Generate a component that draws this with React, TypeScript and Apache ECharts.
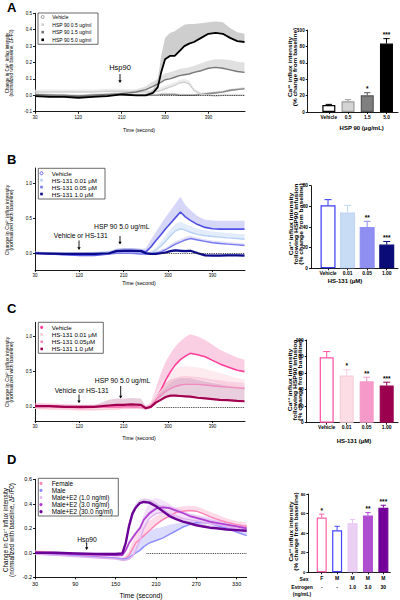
import React, { useEffect, useRef } from 'react';
import * as echarts from 'echarts';

const FONT = '"Liberation Sans", Arial, Helvetica, sans-serif';

// ---------------- Panel A: time course ----------------
const timeA = [30, 60, 90, 120, 150, 180, 210, 240, 260, 275, 285, 292, 300, 310, 320, 330, 340, 350, 360, 375, 390, 405, 420, 435, 450, 465];
const aVehicle = [0, 0, -0.005, -0.005, 0, 0, 0.005, 0, 0, 0, 0, 0.005, 0.005, 0.005, 0.005, 0, 0, 0, 0, 0.005, 0.01, 0.015, 0.02, 0.03, 0.035, 0.04];
const aVehicleErr = [0.01, 0.01, 0.01, 0.01, 0.01, 0.01, 0.01, 0.01, 0.01, 0.01, 0.01, 0.01, 0.01, 0.01, 0.01, 0.01, 0.01, 0.01, 0.01, 0.01, 0.01, 0.01, 0.01, 0.01, 0.01, 0.01];
const aHsp05 = [0.02, 0.02, 0.02, 0.02, 0.02, 0.025, 0.025, 0.02, 0.02, 0.02, 0.025, 0.03, 0.04, 0.05, 0.06, 0.075, 0.08, 0.07, 0.03, 0.005, 0, -0.005, 0, 0, 0, 0];
const aHsp05Err = [0.015, 0.015, 0.015, 0.015, 0.015, 0.015, 0.015, 0.015, 0.015, 0.015, 0.015, 0.02, 0.02, 0.02, 0.02, 0.02, 0.02, 0.02, 0.015, 0.01, 0.01, 0.01, 0.01, 0.01, 0.01, 0.01];
const aHsp15 = [0.005, 0, 0, -0.005, 0, 0.005, 0.01, 0.02, 0.035, 0.055, 0.07, 0.08, 0.095, 0.1, 0.11, 0.12, 0.125, 0.13, 0.14, 0.15, 0.165, 0.17, 0.165, 0.155, 0.145, 0.14];
const aHsp15Err = [0.01, 0.01, 0.01, 0.01, 0.01, 0.01, 0.01, 0.015, 0.02, 0.03, 0.03, 0.035, 0.04, 0.04, 0.04, 0.04, 0.04, 0.04, 0.04, 0.045, 0.045, 0.05, 0.055, 0.06, 0.06, 0.06];
const aHsp50 = [-0.005, -0.01, -0.01, -0.015, -0.01, -0.005, 0.005, 0, 0, 0.015, 0.05, 0.14, 0.22, 0.24, 0.24, 0.27, 0.3, 0.315, 0.325, 0.35, 0.375, 0.38, 0.375, 0.35, 0.33, 0.325];
const aHsp50Err = [0.01, 0.01, 0.01, 0.01, 0.01, 0.01, 0.01, 0.01, 0.01, 0.02, 0.05, 0.1, 0.13, 0.14, 0.15, 0.14, 0.13, 0.12, 0.11, 0.09, 0.07, 0.07, 0.07, 0.06, 0.055, 0.05];

// ---------------- Panel B: time course ----------------
const timeBC = [30, 60, 90, 120, 150, 180, 195, 210, 225, 245, 255, 265, 275, 285, 295, 305, 315, 325, 335, 345, 360, 375, 390, 405, 420, 440, 455];
const bVehicle = [0, -0.01, -0.02, -0.03, -0.03, -0.01, 0.03, 0.04, 0.04, 0.03, 0.02, 0.09, 0.18, 0.26, 0.35, 0.43, 0.51, 0.59, 0.52, 0.47, 0.41, 0.37, 0.35, 0.345, 0.345, 0.345, 0.345];
const bVehicleErr = [0.02, 0.02, 0.02, 0.02, 0.02, 0.02, 0.03, 0.03, 0.03, 0.03, 0.05, 0.1, 0.12, 0.15, 0.17, 0.18, 0.2, 0.22, 0.17, 0.15, 0.12, 0.11, 0.12, 0.12, 0.12, 0.12, 0.12];
const bHs001 = [0, 0, -0.01, -0.01, 0, 0.02, 0.03, 0.035, 0.03, 0, -0.01, 0, 0.04, 0.1, 0.17, 0.25, 0.32, 0.35, 0.33, 0.3, 0.27, 0.25, 0.24, 0.23, 0.22, 0.21, 0.2];
const bHs001Err = [0.02, 0.02, 0.02, 0.02, 0.02, 0.02, 0.02, 0.02, 0.02, 0.02, 0.02, 0.03, 0.04, 0.06, 0.08, 0.1, 0.1, 0.1, 0.09, 0.09, 0.08, 0.08, 0.07, 0.07, 0.07, 0.07, 0.07];
const bHs005 = [0, -0.01, -0.02, -0.02, -0.02, -0.01, 0, 0, 0, -0.01, -0.01, -0.01, 0, 0.02, 0.05, 0.09, 0.13, 0.16, 0.19, 0.21, 0.19, 0.17, 0.15, 0.14, 0.13, 0.12, 0.11];
const bHs005Err = [0.02, 0.02, 0.02, 0.02, 0.02, 0.02, 0.02, 0.02, 0.02, 0.02, 0.02, 0.02, 0.03, 0.03, 0.03, 0.04, 0.04, 0.04, 0.04, 0.04, 0.03, 0.03, 0.03, 0.03, 0.03, 0.03, 0.03];
const bHs10 = [0, -0.005, -0.01, -0.01, -0.01, 0, 0.03, 0.035, 0.035, 0.03, 0, -0.01, -0.01, 0, 0.01, 0.03, 0.04, 0.035, 0.03, 0.035, 0, -0.03, -0.035, -0.035, -0.03, -0.03, -0.035];
const bHs10Err = [0.02, 0.02, 0.02, 0.02, 0.02, 0.02, 0.035, 0.035, 0.035, 0.035, 0.02, 0.02, 0.02, 0.02, 0.02, 0.02, 0.02, 0.02, 0.02, 0.02, 0.02, 0.02, 0.02, 0.02, 0.02, 0.02, 0.02];

// ---------------- Panel C: time course ----------------
const cVehicle = [0.02, 0.01, 0, -0.01, -0.005, 0, 0, 0, 0, -0.01, -0.02, 0, 0.1, 0.23, 0.38, 0.5, 0.6, 0.67, 0.72, 0.76, 0.74, 0.71, 0.66, 0.61, 0.57, 0.52, 0.5];
const cVehicleErr = [0.04, 0.04, 0.04, 0.04, 0.04, 0.04, 0.04, 0.04, 0.04, 0.04, 0.04, 0.06, 0.16, 0.24, 0.26, 0.26, 0.26, 0.26, 0.27, 0.27, 0.26, 0.24, 0.22, 0.2, 0.19, 0.18, 0.17];
const cHs001 = [-0.02, -0.03, -0.03, -0.04, -0.04, -0.03, -0.03, -0.02, -0.02, -0.02, -0.03, 0.02, 0.12, 0.22, 0.3, 0.36, 0.4, 0.42, 0.43, 0.42, 0.41, 0.39, 0.37, 0.34, 0.32, 0.29, 0.27];
const cHs001Err = [0.03, 0.03, 0.03, 0.03, 0.03, 0.03, 0.03, 0.03, 0.03, 0.03, 0.03, 0.05, 0.1, 0.12, 0.13, 0.14, 0.15, 0.15, 0.15, 0.15, 0.15, 0.15, 0.14, 0.14, 0.13, 0.12, 0.12];
const cHs005 = [0, 0, -0.01, -0.01, -0.01, 0, 0, 0, 0, -0.01, -0.02, 0.02, 0.1, 0.16, 0.22, 0.26, 0.29, 0.31, 0.32, 0.32, 0.32, 0.31, 0.3, 0.29, 0.28, 0.27, 0.26];
const cHs005Err = [0.02, 0.02, 0.02, 0.02, 0.02, 0.02, 0.02, 0.02, 0.02, 0.02, 0.02, 0.03, 0.06, 0.08, 0.09, 0.1, 0.1, 0.1, 0.1, 0.1, 0.1, 0.1, 0.09, 0.09, 0.08, 0.08, 0.08];
const cHs10 = [0.01, 0.01, 0, 0, 0, 0.02, 0.03, 0.03, 0.035, 0.03, -0.02, 0, 0.06, 0.1, 0.14, 0.16, 0.16, 0.155, 0.15, 0.145, 0.13, 0.12, 0.11, 0.1, 0.095, 0.085, 0.08];
const cHs10Err = [0.02, 0.02, 0.02, 0.02, 0.02, 0.08, 0.09, 0.09, 0.09, 0.09, 0.03, 0.03, 0.08, 0.14, 0.2, 0.23, 0.25, 0.26, 0.26, 0.26, 0.25, 0.24, 0.23, 0.22, 0.21, 0.2, 0.2];

// ---------------- Panel D: time course ----------------
const timeD = [30, 60, 90, 120, 150, 160, 165, 170, 175, 180, 186, 192, 200, 210, 220, 230, 240, 250, 260, 270, 280, 290, 300, 315, 330, 345];
const dFemale = [0.01, 0, -0.015, -0.03, -0.045, -0.05, -0.045, -0.02, 0.03, 0.08, 0.11, 0.14, 0.18, 0.23, 0.27, 0.3, 0.33, 0.34, 0.345, 0.34, 0.32, 0.295, 0.275, 0.25, 0.23, 0.215];
const dFemaleErr = [0.01, 0.01, 0.01, 0.01, 0.01, 0.01, 0.02, 0.04, 0.06, 0.08, 0.09, 0.09, 0.08, 0.07, 0.06, 0.05, 0.04, 0.04, 0.04, 0.04, 0.04, 0.04, 0.04, 0.03, 0.03, 0.03];
const dMale = [-0.01, -0.015, -0.025, -0.035, -0.045, -0.05, -0.05, -0.04, -0.02, 0, 0.02, 0.05, 0.08, 0.1, 0.12, 0.15, 0.18, 0.21, 0.23, 0.245, 0.245, 0.24, 0.225, 0.2, 0.17, 0.14];
const dMaleErr = [0.01, 0.01, 0.01, 0.01, 0.01, 0.01, 0.01, 0.02, 0.04, 0.06, 0.08, 0.09, 0.1, 0.1, 0.09, 0.08, 0.06, 0.04, 0.03, 0.03, 0.03, 0.03, 0.03, 0.03, 0.03, 0.03];
const dE2Low = [-0.01, -0.02, -0.03, -0.04, -0.05, -0.06, -0.06, -0.05, -0.03, 0.02, 0.1, 0.2, 0.28, 0.32, 0.33, 0.32, 0.3, 0.28, 0.27, 0.26, 0.25, 0.24, 0.23, 0.215, 0.2, 0.19];
const dE2LowErr = [0.01, 0.01, 0.01, 0.01, 0.01, 0.01, 0.01, 0.02, 0.03, 0.05, 0.08, 0.12, 0.14, 0.13, 0.1, 0.08, 0.06, 0.05, 0.05, 0.05, 0.05, 0.05, 0.05, 0.04, 0.04, 0.04];
const dE2Mid = [0, -0.005, -0.01, -0.015, -0.02, -0.02, 0.02, 0.08, 0.12, 0.16, 0.2, 0.27, 0.32, 0.36, 0.37, 0.365, 0.345, 0.325, 0.3, 0.285, 0.27, 0.255, 0.245, 0.23, 0.215, 0.2];
const dE2MidErr = [0.01, 0.01, 0.01, 0.01, 0.01, 0.01, 0.02, 0.02, 0.02, 0.02, 0.02, 0.02, 0.02, 0.02, 0.02, 0.02, 0.02, 0.02, 0.02, 0.02, 0.02, 0.02, 0.02, 0.02, 0.02, 0.02];
const dE2High = [0, 0, -0.005, -0.01, -0.01, -0.005, 0.08, 0.22, 0.32, 0.37, 0.405, 0.415, 0.41, 0.38, 0.34, 0.3, 0.275, 0.255, 0.24, 0.225, 0.215, 0.205, 0.2, 0.19, 0.185, 0.18];
const dE2HighErr = [0.01, 0.01, 0.01, 0.01, 0.01, 0.01, 0.03, 0.03, 0.03, 0.03, 0.03, 0.03, 0.03, 0.03, 0.03, 0.02, 0.02, 0.02, 0.02, 0.02, 0.02, 0.02, 0.02, 0.02, 0.02, 0.02];

// ---------------- Bar panels ----------------
const aBarCats = ['Vehicle', '0.5', '1.5', '5.0'];
const aBarMeans = [8.5, 13, 20.5, 83.5];
const aBarErrs = [0.8, 2, 3, 6];
const aBarStars = ['', '', '*', '***'];

const bBarCats = ['Vehicle', '0.01', '0.05', '1.00'];
const bBarMeans = [61, 54, 40, 23];
const bBarErrs = [5.5, 7, 5.5, 3];
const bBarStars = ['', '', '**', '***'];

const cBarCats = ['Vehicle', '0.01', '0.05', '1.00'];
const cBarMeans = [79, 57, 50, 45];
const cBarErrs = [7, 7, 5, 4];
const cBarStars = ['', '*', '**', '***'];

const dBarSex = ['F', 'M', 'M', 'M', 'M'];
const dBarEstrogen = ['-', '-', '1.0', '3.0', '30'];
const dBarMeans = [56, 43, 50, 58, 66];
const dBarErrs = [3.5, 4, 4, 3, 2.5];
const dBarStars = ['*', '', '', '**', '***'];

// ---------------- Tick labels ----------------
const timeTicksABC = [30, 120, 210, 300, 390];
const timeTicksD = [30, 90, 150, 210, 270, 330];
const yTicksA = [-0.1, 0, 0.1, 0.2, 0.3, 0.4, 0.5];
const yTicksBC = [0, 0.5, 1.0];
const yTicksD = [-0.2, 0, 0.2, 0.4, 0.6];
const barTicks100 = [0, 20, 40, 60, 80, 100];
const barTicks80 = [0, 20, 40, 60, 80];

type Curve = { name: string; mean: number[]; err: number[]; line: string; band: string; bandOpacity: number; width: number; marker: 'ring' | 'dot' | 'square' };

const curvesA: Curve[] = [
  { name: 'Vehicle', mean: aVehicle, err: aVehicleErr, line: '#8c8c8c', band: '#dcdcdc', bandOpacity: 0.7, width: 1.6, marker: 'ring' },
  { name: 'HSP 90 0.5 ug/ml', mean: aHsp05, err: aHsp05Err, line: '#cfcfcf', band: '#e6e6e6', bandOpacity: 0.7, width: 1.4, marker: 'square' },
  { name: 'HSP 90 1.5 ug/ml', mean: aHsp15, err: aHsp15Err, line: '#777777', band: '#d8d8d8', bandOpacity: 0.8, width: 1.4, marker: 'square' },
  { name: 'HSP 90 5.0 ug/ml', mean: aHsp50, err: aHsp50Err, line: '#000000', band: '#c2c2c2', bandOpacity: 0.8, width: 1.8, marker: 'square' },
];
const curvesB: Curve[] = [
  { name: 'Vehicle', mean: bVehicle, err: bVehicleErr, line: '#4f4fe6', band: '#b4b4f4', bandOpacity: 0.55, width: 1.6, marker: 'ring' },
  { name: 'HS-131 0.01 μM', mean: bHs001, err: bHs001Err, line: '#b7d0f5', band: '#d6e4fa', bandOpacity: 0.7, width: 1.4, marker: 'square' },
  { name: 'HS-131 0.05 μM', mean: bHs005, err: bHs005Err, line: '#7878ee', band: '#bdbdf6', bandOpacity: 0.5, width: 1.4, marker: 'square' },
  { name: 'HS-131 1.0 μM', mean: bHs10, err: bHs10Err, line: '#0a0a8a', band: '#7d7dd0', bandOpacity: 0.5, width: 2.2, marker: 'square' },
];
const curvesC: Curve[] = [
  { name: 'Vehicle', mean: cVehicle, err: cVehicleErr, line: '#ff3d9a', band: '#f6a8cc', bandOpacity: 0.55, width: 1.6, marker: 'dot' },
  { name: 'HS-131 0.01 μM', mean: cHs001, err: cHs001Err, line: '#fbcbd8', band: '#fde2ea', bandOpacity: 0.7, width: 1.4, marker: 'square' },
  { name: 'HS-131 0.05μM', mean: cHs005, err: cHs005Err, line: '#f08cc0', band: '#f3bcd8', bandOpacity: 0.5, width: 1.4, marker: 'square' },
  { name: 'HS-131 1.0 μM', mean: cHs10, err: cHs10Err, line: '#a3004f', band: '#cf94b4', bandOpacity: 0.45, width: 2.2, marker: 'square' },
];
const curvesD: Curve[] = [
  { name: 'Female', mean: dFemale, err: dFemaleErr, line: '#ff86b6', band: '#ffc2da', bandOpacity: 0.6, width: 1.5, marker: 'dot' },
  { name: 'Male', mean: dMale, err: dMaleErr, line: '#8f8fff', band: '#c4c4ff', bandOpacity: 0.6, width: 1.5, marker: 'dot' },
  { name: 'Male+E2 (1.0 ng/ml)', mean: dE2Low, err: dE2LowErr, line: '#e2b2f0', band: '#eed6f6', bandOpacity: 0.7, width: 1.5, marker: 'square' },
  { name: 'Male+E2 (3.0 ng/ml)', mean: dE2Mid, err: dE2MidErr, line: '#b13fd2', band: '#dcaaee', bandOpacity: 0.5, width: 1.8, marker: 'dot' },
  { name: 'Male+E2 (30.0 ng/ml)', mean: dE2High, err: dE2HighErr, line: '#6a0096', band: '#b98ad0', bandOpacity: 0.4, width: 2.4, marker: 'dot' },
];

function lineSeries(gi: number, times: number[], curves: Curve[], zeroFrom: number, zeroTo: number) {
  const out: any[] = [];
  curves.forEach((c) => {
    out.push({
      type: 'custom', xAxisIndex: gi, yAxisIndex: gi, silent: true, z: 1,
      data: times.map((t, i) => [t, c.mean[i], c.mean[i] + c.err[i]]),
      encode: { x: 0, y: [1, 2] },
      renderItem: (params: any, api: any) => {
        if (params.dataIndexInside !== 0) return null;
        const n = params.dataInsideLength;
        const up: number[][] = [];
        const lo: number[][] = [];
        for (let i = 0; i < n; i++) {
          up.push(api.coord([api.value(0, i), api.value(2, i)]));
          lo.push(api.coord([api.value(0, i), api.value(1, i)]));
        }
        return { type: 'polygon', shape: { points: up.concat(lo.reverse()) }, style: { fill: c.band, opacity: c.bandOpacity } };
      },
    });
  });
  curves.forEach((c, k) => {
    out.push({
      type: 'line', name: c.name, xAxisIndex: gi, yAxisIndex: gi, z: 3,
      data: times.map((t, i) => [t, c.mean[i]]),
      symbol: 'none', showSymbol: false,
      lineStyle: { color: c.line, width: c.width },
      itemStyle: { color: c.line },
      markLine: k === 0 ? {
        silent: true, symbol: 'none', label: { show: false },
        lineStyle: { type: 'dotted', color: '#222', width: 0.9 },
        data: [[{ coord: [zeroFrom, 0] }, { coord: [zeroTo, 0] }]],
      } : undefined,
    });
  });
  return out;
}

function barSeries(gi: number, means: number[], errs: number[], stars: string[], fills: string[], borders: string[], bw: number, cap: number) {
  return [
    {
      type: 'bar', xAxisIndex: gi, yAxisIndex: gi, barWidth: bw, z: 2,
      data: means.map((m, i) => ({ value: [i + 1, m], itemStyle: { color: fills[i], borderColor: borders[i], borderWidth: 1.2 } })),
    },
    {
      type: 'custom', xAxisIndex: gi, yAxisIndex: gi, silent: true, z: 4,
      data: means.map((m, i) => [i + 1, m, errs[i]]),
      encode: { x: 0, y: 1 },
      renderItem: (params: any, api: any) => {
        const i = params.dataIndex;
        const x = api.value(0);
        const m = api.value(1);
        const e = api.value(2);
        const p0 = api.coord([x, m]);
        const p1 = api.coord([x, m + e]);
        const col = borders[i];
        return {
          type: 'group', children: [
            { type: 'line', shape: { x1: p0[0], y1: p0[1], x2: p1[0], y2: p1[1] }, style: { stroke: col, lineWidth: 1 } },
            { type: 'line', shape: { x1: p1[0] - cap, y1: p1[1], x2: p1[0] + cap, y2: p1[1] }, style: { stroke: col, lineWidth: 1 } },
            { type: 'text', x: p1[0], y: p1[1] - 0.5, style: { text: stars[i], align: 'center', verticalAlign: 'bottom', textAlign: 'center', textVerticalAlign: 'bottom', fontSize: 6.5, fontWeight: 'bold', fontFamily: FONT, fill: '#000' } },
          ],
        };
      },
    },
  ];
}

const axisLineStyle = { color: '#000', width: 0.9 };

function valueXAxis(gi: number, min: number, max: number, ticks: number[], fs: number, formatter: any, bold = false, margin = 3, lineHeight?: number) {
  return {
    gridIndex: gi, type: 'value', min, max,
    axisLine: { show: true, onZero: false, lineStyle: axisLineStyle },
    axisTick: { show: true, customValues: ticks, length: 2, lineStyle: axisLineStyle },
    axisLabel: { show: true, customValues: ticks, fontSize: fs, color: '#000', margin, fontFamily: FONT, fontWeight: bold ? 'bold' : 'normal', formatter, lineHeight },
    splitLine: { show: false },
  };
}
function valueYAxis(gi: number, min: number, max: number, ticks: number[], fs: number, formatter: any, bold = false) {
  return {
    gridIndex: gi, type: 'value', min, max,
    axisLine: { show: true, onZero: false, lineStyle: axisLineStyle },
    axisTick: { show: true, customValues: ticks, length: 2, lineStyle: axisLineStyle },
    axisLabel: { show: true, customValues: ticks, fontSize: fs, color: '#000', margin: 3, fontFamily: FONT, fontWeight: bold ? 'bold' : 'normal', formatter },
    splitLine: { show: false },
  };
}

const fmt1 = (v: number) => v.toFixed(1);
const fmt0 = (v: number) => String(Math.round(v));
const catFmt = (cats: string[]) => (v: number) => cats[Math.round(v) - 1] ?? '';

function txt(x: number, y: number, text: string, fs: number, opts: any = {}) {
  const align = opts.align || 'center';
  const valign = opts.valign || 'middle';
  return {
    type: 'text', x, y, rotation: opts.rotation || 0, scaleX: opts.scaleX || 1, scaleY: opts.scaleY || 1, silent: true,
    style: {
      text, fontSize: fs, fontFamily: FONT, fontWeight: opts.bold ? 'bold' : 'normal', fill: '#000',
      align, verticalAlign: valign, textAlign: align, textVerticalAlign: valign, lineHeight: opts.lineHeight,
    },
  };
}
function arrow(x: number, y1: number, y2: number) {
  return [
    { type: 'line', silent: true, shape: { x1: x, y1, x2: x, y2: y2 - 2 }, style: { stroke: '#000', lineWidth: 0.9 } },
    { type: 'polygon', silent: true, shape: { points: [[x - 1.7, y2 - 2.8], [x + 1.7, y2 - 2.8], [x, y2]] }, style: { fill: '#000' } },
  ];
}
function legend(curves: Curve[], bx: number, by: number, bw: number, bh: number, symX: number, textX: number, y0: number, dy: number, fs: number) {
  const els: any[] = [{ type: 'rect', silent: true, shape: { x: bx, y: by, width: bw, height: bh }, style: { fill: '#fff', stroke: '#444', lineWidth: 0.8 } }];
  curves.forEach((c, i) => {
    const y = y0 + i * dy;
    if (c.marker === 'ring') els.push({ type: 'circle', silent: true, shape: { cx: symX, cy: y, r: 1.5 }, style: { fill: '#fff', stroke: c.line, lineWidth: 0.9 } });
    else if (c.marker === 'dot') els.push({ type: 'circle', silent: true, shape: { cx: symX, cy: y, r: 1.6 }, style: { fill: c.line } });
    else els.push({ type: 'rect', silent: true, shape: { x: symX - 1.3, y: y - 1.3, width: 2.6, height: 2.6 }, style: { fill: c.line } });
    els.push(txt(textX, y, c.name, fs, { align: 'left' }));
  });
  return els;
}

const App: React.FC = () => {
  const ref = useRef<HTMLDivElement>(null);
  useEffect(() => {
    if (!ref.current) return;
    const chart = echarts.init(ref.current, undefined, { renderer: 'svg' });

    const grids = [
      { left: 35, top: 13.3, width: 210, height: 98.4 },
      { left: 307.7, top: 30, width: 90.3, height: 82 },
      { left: 35, top: 168, width: 210, height: 102 },
      { left: 311, top: 185.7, width: 87, height: 82.6 },
      { left: 35, top: 322.3, width: 210, height: 98.7 },
      { left: 306.7, top: 340, width: 91.3, height: 82.7 },
      { left: 35, top: 479.3, width: 211.7, height: 98 },
      { left: 308.3, top: 494, width: 82, height: 78.3 },
    ];

    const xAxes = [
      valueXAxis(0, 30, 466, timeTicksABC, 4.5, fmt0),
      valueXAxis(1, -0.1, 4.6, [1, 2, 3, 4], 4.8, catFmt(aBarCats), true, 3),
      valueXAxis(2, 30, 456, timeTicksABC, 4.5, fmt0),
      valueXAxis(3, 0.13, 4.575, [1, 2, 3, 4], 5, catFmt(bBarCats), true, 2),
      valueXAxis(4, 30, 456, timeTicksABC, 4.5, fmt0),
      valueXAxis(5, 0, 4.565, [1, 2, 3, 4], 5, catFmt(cBarCats), true, 2),
      valueXAxis(6, 30, 345, timeTicksD, 5.5, fmt0, false, 4),
      valueXAxis(7, 0.13, 5.45, [1, 2, 3, 4, 5], 5, (v: number) => `${dBarSex[Math.round(v) - 1]}\n${dBarEstrogen[Math.round(v) - 1]}`, true, 2, 8.4),
    ];
    const yAxes = [
      valueYAxis(0, -0.1, 0.5, yTicksA, 4.5, fmt1),
      valueYAxis(1, 0, 100, barTicks100, 4.6, fmt0, true),
      valueYAxis(2, -0.24, 1.22, yTicksBC, 4.5, fmt1),
      valueYAxis(3, 0, 80, barTicks80, 4.8, fmt0, true),
      valueYAxis(4, -0.2, 1.2, yTicksBC, 4.5, fmt1),
      valueYAxis(5, 0, 100, barTicks100, 4.8, fmt0, true),
      valueYAxis(6, -0.2, 0.6, yTicksD, 5.5, fmt1),
      valueYAxis(7, 0, 80, barTicks80, 4.2, fmt0, true),
    ];

    const series: any[] = [
      ...lineSeries(0, timeA, curvesA, 290, 466),
      ...barSeries(1, aBarMeans, aBarErrs, aBarStars, ['#ffffff', '#d4d4d4', '#7f7f7f', '#000000'], ['#000000', '#9a9a9a', '#555555', '#000000'], 13, 3.2),
      ...lineSeries(2, timeBC, curvesB, 284, 456),
      ...barSeries(3, bBarMeans, bBarErrs, bBarStars, ['#ffffff', '#c9dcf6', '#8f8ff2', '#0b0b78'], ['#3a3af0', '#c0d4f4', '#8f8ff2', '#0b0b78'], 15, 3.5),
      ...lineSeries(4, timeBC, curvesC, 277, 456),
      ...barSeries(5, cBarMeans, cBarErrs, cBarStars, ['#ffffff', '#fddde5', '#f59ac8', '#9b004f'], ['#ff4fa3', '#f9cdd9', '#f59ac8', '#9b004f'], 14, 3.5),
      ...lineSeries(6, timeD, curvesD, 196, 345),
      ...barSeries(7, dBarMeans, dBarErrs, dBarStars, ['#ffffff', '#ffffff', '#ecd0f4', '#b04ed0', '#74009a'], ['#ff5fa8', '#4545ff', '#e6c6f2', '#b04ed0', '#74009a'], 10, 2.6),
    ];

    const yNameLine = 'Change in Ca²⁺ influx intensity';
    const graphics: any[] = [
      // panel letters
      txt(7, 0.5, 'A', 13, { align: 'left', valign: 'top', bold: true }),
      txt(7, 153, 'B', 13, { align: 'left', valign: 'top', bold: true }),
      txt(7, 302, 'C', 13, { align: 'left', valign: 'top', bold: true }),
      txt(7, 453, 'D', 13, { align: 'left', valign: 'top', bold: true }),
      // line y-axis titles
      txt(9.5, 63, `${yNameLine}\n(normalized with baseline, ΔF/F0)`, 4.5, { rotation: Math.PI / 2, lineHeight: 4.5 }),
      txt(9.5, 220, `${yNameLine}\n(normalized with baseline)`, 4.6, { rotation: Math.PI / 2, lineHeight: 4.5, scaleX: 1.15 }),
      txt(9.5, 372, `${yNameLine}\n(normalized with baseline)`, 4.6, { rotation: Math.PI / 2, lineHeight: 4.5, scaleX: 1.15 }),
      txt(8.4, 530, `${yNameLine}\n(normalized with baseline, ΔF/F0)`, 6.3, { rotation: Math.PI / 2, lineHeight: 6.7 }),
      // time titles
      txt(139, 130, 'Time (second)', 5),
      txt(139, 283.3, 'Time (second)', 5.3),
      txt(139, 438.3, 'Time (second)', 5.3),
      txt(141, 595, 'Time (second)', 6.8),
      // bar y titles
      txt(292.5, 67, 'Ca²⁺ influx intensity\n(% change from baseline)', 5, { rotation: Math.PI / 2, lineHeight: 5, bold: true, scaleX: 1.3 }),
      txt(296.7, 224, 'Ca²⁺ influx intensity\nfollowing HSP90 infusion\n(% change from baseline)', 5, { rotation: Math.PI / 2, lineHeight: 5, bold: true, scaleX: 1.35 }),
      txt(295, 380, 'Ca²⁺ influx intensity\nfollowing HSP90 infusion\n(% change from baseline)', 5, { rotation: Math.PI / 2, lineHeight: 5, bold: true, scaleX: 1.35 }),
      txt(294.2, 531.5, 'Ca²⁺ influx intensity\n(% change from baseline)', 5, { rotation: Math.PI / 2, lineHeight: 5, bold: true, scaleX: 1.3 }),
      // bar x titles
      txt(361.7, 128.3, 'HSP 90 (μg/mL)', 6, { bold: true }),
      txt(345, 280.5, 'HS-131 (μM)', 6, { bold: true }),
      txt(354, 440.5, 'HS-131 (μM)', 6, { bold: true }),
      txt(304, 578.5, 'Sex', 5, { bold: true }),
      txt(302, 586.8, 'Estrogen', 5, { bold: true }),
      txt(302, 594.2, '(ng/mL)', 5, { bold: true }),
      // annotations
      txt(120, 67, 'Hsp90', 7.5),
      ...arrow(120, 74, 83),
      txt(121.7, 226.7, 'HSP 90 5.0 ug/mL', 6.8),
      ...arrow(120, 236, 244.5),
      txt(80.8, 235, 'Vehicle or HS-131', 6.7),
      ...arrow(79, 240.5, 250),
      txt(122.5, 380.7, 'HSP 90 5.0 ug/mL', 6.8),
      ...arrow(120.7, 386, 398.5),
      txt(81.7, 390, 'Vehicle or HS-131', 6.7),
      ...arrow(79, 394.5, 403.3),
      txt(87, 539, 'Hsp90', 6.8),
      ...arrow(86.7, 543, 550),
      // legends
      ...legend(curvesA, 38, 13, 60, 31.3, 42.7, 52.3, 17, 7.6, 5),
      ...legend(curvesB, 38.3, 168.3, 66.7, 30.7, 41.5, 51.7, 173.3, 6.9, 6.2),
      ...legend(curvesC, 38.3, 322.3, 65, 31, 41.7, 51.7, 327.3, 7.2, 6.2),
      ...legend(curvesD, 38.3, 478.3, 80, 37.7, 41, 51.7, 483.3, 7.1, 6.4),
    ];

    chart.setOption({
      animation: false,
      backgroundColor: '#ffffff',
      textStyle: { fontFamily: FONT },
      grid: grids.map((g) => ({ ...g, containLabel: false })),
      xAxis: xAxes,
      yAxis: yAxes,
      series,
      graphic: { elements: graphics },
    });
    return () => chart.dispose();
  }, []);
  return <div ref={ref} style={{ position: 'absolute', left: 0, top: 0, width: 400, height: 600 }} />;
};

export default App;
